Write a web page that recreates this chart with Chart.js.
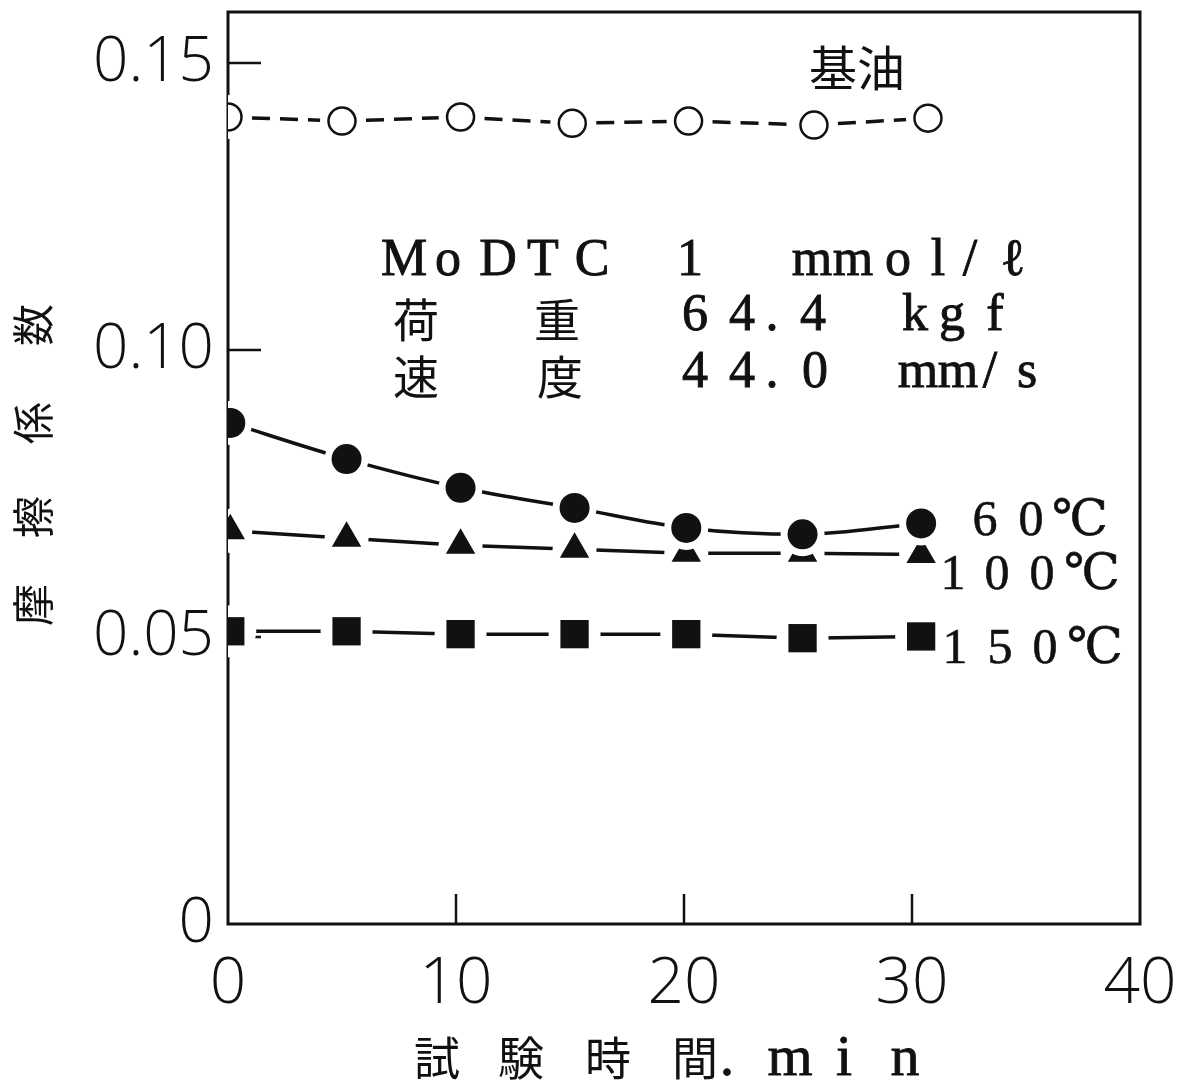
<!DOCTYPE html>
<html><head><meta charset="utf-8">
<script src="https://cdn.jsdelivr.net/npm/chart.js@4.4.1/dist/chart.umd.min.js"></script>
<style>html,body{margin:0;padding:0;background:#fff}#wrap{width:1191px;height:1088px}</style>
</head><body><div id="wrap"><canvas id="c" width="1191" height="1088"></canvas></div>
<script>
// ---- data ----
const baseTime = [0, 5.0, 10.2, 15.1, 20.2, 25.7, 30.7];
const baseOil  = [0.1406, 0.1399, 0.1406, 0.1395, 0.1399, 0.1392, 0.1404];
const testTime = [0.1, 5.2, 10.2, 15.2, 20.1, 25.2, 30.4];
const temp60   = [0.0873, 0.0810, 0.0760, 0.0725, 0.0690, 0.0679, 0.0698];
const temp100  = [0.0685, 0.0672, 0.0660, 0.0653, 0.0646, 0.0646, 0.0644];
const temp150  = [0.0510, 0.0510, 0.0505, 0.0505, 0.0505, 0.0498, 0.0501];
const xTickLabels = ['0', '10', '20', '30', '40'];
const yTickLabels = ['0', '0.05', '0.10', '0.15'];
const seriesNames = ['基油', '6 0℃', '1 0 0℃', '1 5 0℃'];
const yTitle = '摩擦係数';
const xTitle = '試験時間.min';

const pts = (xs, ys) => xs.map((x, i) => ({x, y: ys[i]}));
const INK = '#111';

function lineDs(data, dash, w, tension) {
  const ds = {data, showLine: true, borderColor: INK, borderWidth: w, borderDash: dash, pointRadius: 0,
          tension: tension || 0, cubicInterpolationMode: tension ? 'monotone' : 'default', order: 20, fill: false};
  if (dash.length) {
    const period = dash[0] + dash[1];
    ds.segment = {borderDashOffset: c => (period - 24) + (c.p0DataIndex % 2) * period};
  }
  return ds;
}
function haloDs(data, r, order) {
  return {data, showLine: false, pointRadius: r, pointStyle: 'circle', pointBackgroundColor: '#fff',
          pointBorderWidth: 0, pointBorderColor: '#fff', order};
}
function markDs(data, style, r, fillc, bw, order) {
  return {data, showLine: false, pointRadius: r, pointStyle: style, pointBackgroundColor: fillc,
          pointBorderColor: INK, pointBorderWidth: bw, order};
}

const dBase = pts(baseTime, baseOil), d60 = pts(testTime, temp60),
      d100 = pts(testTime, temp100), d150 = pts(testTime, temp150);

const datasets = [
  lineDs(dBase, [18, 10], 3.5), lineDs(d60, [], 3.5, 0.3), lineDs(d100, [], 3.5), lineDs(d150, [], 3.5),
  haloDs(d150, 26, 11), markDs(d150, 'rect', 20, INK, 0, 10),
  haloDs(d100, 22, 9), markDs(d100, 'triangle', 17, INK, 0, 8),
  haloDs(d60, 22, 7), markDs(d60, 'circle', 15, INK, 0, 6),
  haloDs(dBase, 22, 5), markDs(dBase, 'circle', 13.5, '#fff', 2.5, 4)
];

function charsAt(ctx, chars, xs, y, font, stroke) {
  ctx.font = font; ctx.textAlign = 'center'; ctx.textBaseline = 'alphabetic';
  ctx.strokeStyle = INK; ctx.lineWidth = stroke || 0;
  for (let i = 0; i < chars.length; i++) {
    ctx.fillText(chars[i], xs[i], y);
    if (stroke) ctx.strokeText(chars[i], xs[i], y);
  }
}

const SERIF = '"Liberation Serif", "DejaVu Serif", serif';
const CJK = '"Noto Sans CJK JP", sans-serif';

const decor = {
  id: 'decor',
  beforeDatasetsDraw(chart) {
    const {ctx, chartArea: a, scales: {x, y}} = chart;
    ctx.save();
    ctx.strokeStyle = INK; ctx.lineWidth = 3;
    ctx.strokeRect(a.left, a.top, a.right - a.left, a.bottom - a.top);
    ctx.lineWidth = 2.5;
    [0.05, 0.10, 0.15].forEach(v => {
      const py = y.getPixelForValue(v);
      ctx.beginPath(); ctx.moveTo(a.left, py); ctx.lineTo(a.left + 33, py); ctx.stroke();
    });
    [10, 20, 30].forEach(v => {
      const px = x.getPixelForValue(v);
      ctx.beginPath(); ctx.moveTo(px, a.bottom); ctx.lineTo(px, a.bottom - 30); ctx.stroke();
    });
    ctx.restore();
  },
  afterDraw(chart) {
    const {ctx} = chart;
    ctx.save();
    ctx.fillStyle = INK;
    ctx.font = '48px ' + CJK; ctx.textAlign = 'center'; ctx.textBaseline = 'middle';
    ctx.fillText(seriesNames[0], 857, 68);
    const f = '52px ' + SERIF;
    charsAt(ctx, 'MoDTC1mmol/ℓ'.split(''), [404, 448, 498, 543, 592, 690, 812, 853, 898, 938, 970, 1013], 275, f, 0.9);
    charsAt(ctx, ['荷', '重'], [416, 557], 337, '46px ' + CJK);
    charsAt(ctx, '64.4kgf'.split(''), [695, 742, 772, 813, 915, 952, 995], 330, f, 0.9);
    charsAt(ctx, ['速', '度'], [416, 560], 394, '46px ' + CJK);
    charsAt(ctx, '44.0mm/s'.split(''), [695, 742, 772, 815, 918, 958, 990, 1027], 387, f, 0.9);
    const sf = '50px ' + SERIF + ', ' + CJK;
    charsAt(ctx, seriesNames[1].replace(/ /g, '').split(''), [985, 1031, 1080], 535, sf, 0.6);
    charsAt(ctx, seriesNames[2].replace(/ /g, '').split(''), [953, 997, 1042, 1092], 589, sf, 0.6);
    charsAt(ctx, seriesNames[3].replace(/ /g, '').split(''), [955, 1000, 1045, 1095], 663, sf, 0.6);
    const ty = [605, 517, 423, 325];
    ctx.font = '42px ' + CJK; ctx.textAlign = 'center'; ctx.textBaseline = 'middle';
    yTitle.split('').forEach((ch, i) => {
      ctx.save(); ctx.translate(33, ty[i]); ctx.rotate(-Math.PI / 2); ctx.fillText(ch, 0, 0); ctx.restore();
    });
    const xc = xTitle.split('');
    charsAt(ctx, xc.slice(0, 4), [437, 521, 608, 695], 1075, '46px ' + CJK);
    charsAt(ctx, xc.slice(4), [727, 790, 844, 905], 1075, '58px ' + SERIF, 0.8);
    ctx.restore();
  }
};

new Chart(document.getElementById('c'), {
  type: 'scatter',
  data: {datasets},
  options: {
    responsive: false, animation: false,
    layout: {autoPadding: false, padding: {top: 12, right: 51, left: 0, bottom: 0}},
    plugins: {legend: {display: false}, tooltip: {enabled: false}},
    scales: {
      x: {
        type: 'linear', min: 0, max: 40,
        afterFit: s => { s.height = 1088 - 924; s.paddingLeft = 0; s.paddingRight = 0; },
        border: {display: false},
        grid: {display: false, drawTicks: false},
        ticks: {stepSize: 10, padding: 22, color: INK, maxRotation: 0,
                font: {family: '"Open Sans"', weight: 300, size: 64},
                callback: (v) => { const i = [0, 10, 20, 30, 40].indexOf(v); return i >= 0 ? xTickLabels[i] : ''; }}
      },
      y: {
        type: 'linear', min: 0, max: 0.1589,
        afterFit: s => { s.width = 228; s.paddingTop = 0; s.paddingBottom = 0; },
        border: {display: false},
        grid: {display: false, drawTicks: false},
        ticks: {stepSize: 0.05, includeBounds: false, padding: 14, color: INK,
                font: {family: '"Open Sans"', weight: 300, size: 62},
                callback: (v) => { const i = Math.round(v / 0.05); return (Math.abs(v - i * 0.05) < 1e-6 && i < yTickLabels.length) ? yTickLabels[i] : ''; }}
      }
    }
  },
  plugins: [decor]
});
</script>
</body></html>
